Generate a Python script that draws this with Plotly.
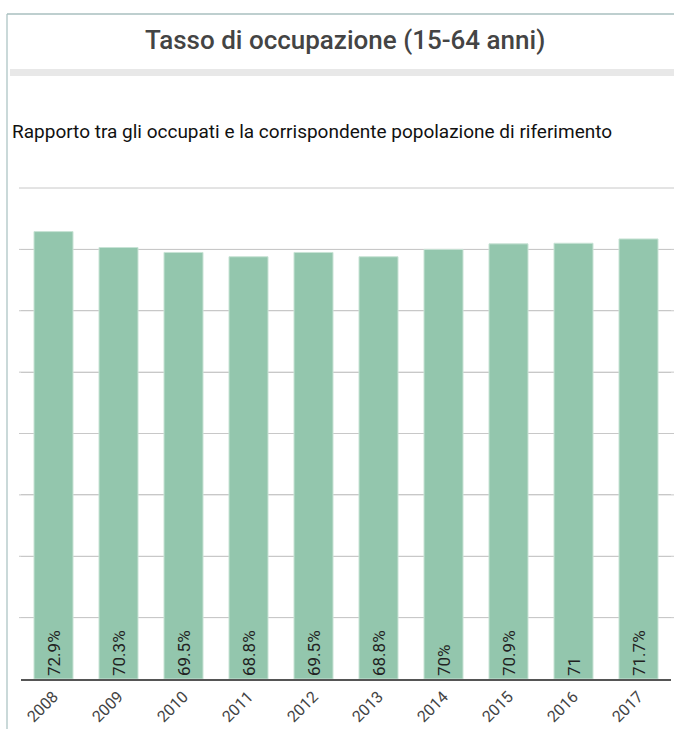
import plotly.graph_objects as go

years = ["2008", "2009", "2010", "2011", "2012", "2013", "2014", "2015", "2016", "2017"]
values = [72.9, 70.3, 69.5, 68.8, 69.5, 68.8, 70, 70.9, 71, 71.7]
labels = ["72.9%", "70.3%", "69.5%", "68.8%", "69.5%", "68.8%", "70%", "70.9%", "71", "71.7%"]
title_text = "Tasso di occupazione (15-64 anni)"
subtitle_text = "Rapporto tra gli occupati e la corrispondente popolazione di riferimento"

W, H = 674, 729
ML, MR, MT, MB = 21, 3, 188, 50
PW = W - ML - MR
PH = H - MT - MB


def py(p):
    return (H - MB - p) / PH


def px(p):
    return (p - ML) / PW


fig = go.Figure()
fig.add_trace(go.Bar(
    x=years, y=values, text=labels,
    textposition="inside", insidetextanchor="start", textangle=-90,
    textfont=dict(family="Roboto", size=17, color="#222222"),
    marker=dict(color="#93c6ad", line=dict(color="#c8e3d5", width=1)),
    width=0.6, hoverinfo="x+y",
))

fig.update_layout(
    width=W, height=H,
    margin=dict(l=ML, r=MR, t=MT, b=MB),
    paper_bgcolor="white", plot_bgcolor="white",
    showlegend=False,
    uniformtext=dict(minsize=17, mode="show"),
    xaxis=dict(tickangle=-45, tickfont=dict(family="Roboto", size=16, color="#444444"),
               showline=True, linecolor="#555555", linewidth=2, ticks="", showgrid=False,
               ticklabelstandoff=0, automargin=False),
    yaxis=dict(range=[0, 80], dtick=10, showticklabels=False, showgrid=True,
               gridcolor="#c8c8c8", gridwidth=1, zeroline=False, showline=False,
               automargin=False),
    font=dict(family="Roboto"),
)

shapes = [
    dict(type="line", xref="paper", yref="paper", x0=px(7), x1=px(7), y0=py(14), y1=py(729),
         line=dict(color="#b9cccc", width=1.5)),
    dict(type="line", xref="paper", yref="paper", x0=px(7), x1=px(674), y0=py(14), y1=py(14),
         line=dict(color="#a9bfbf", width=1.5)),
    dict(type="rect", xref="paper", yref="paper", x0=px(10), x1=px(674), y0=py(76), y1=py(69),
         fillcolor="#e8e8e8", line=dict(width=0)),
]
for v in range(10, 90, 10):
    yy = v / 80
    shapes.append(dict(type="line", xref="paper", yref="paper", x0=px(19), x1=px(674), y0=yy, y1=yy,
                       line=dict(color="#c8c8c8", width=1), layer="below"))
fig.update_layout(shapes=shapes)

fig.add_annotation(text=title_text, xref="paper", yref="paper", x=px(345), y=py(40),
                   xanchor="center", yanchor="middle", showarrow=False,
                   font=dict(family="Roboto", size=26, color="#444444", weight=500))
fig.add_annotation(text=subtitle_text, xref="paper", yref="paper", x=px(10), y=py(131),
                   xanchor="left", yanchor="middle", showarrow=False,
                   font=dict(family="Roboto", size=19, color="#111111"))

fig.write_html("out.html", config={"displayModeBar": False},
               post_script="document.body.style.margin='0';document.body.style.padding='0';")
